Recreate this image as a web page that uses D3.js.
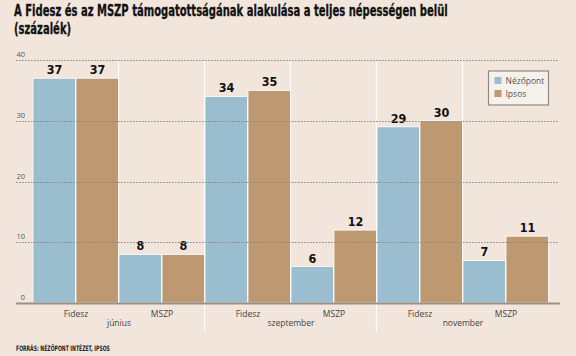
<!DOCTYPE html>
<html><head><meta charset="utf-8">
<script src="https://cdn.jsdelivr.net/npm/d3@7/dist/d3.min.js"></script>
<style>
html,body{margin:0;padding:0;background:#f2e6dc;}
svg{display:block;}
</style></head>
<body>
<svg id="c" width="576" height="356"></svg>
<script>
const months = ["június", "szeptember", "november"];
const parties = ["Fidesz", "MSZP"];
const series = ["Nézőpont", "Ipsos"];
const nezopont = [37, 8, 34, 6, 29, 7];
const ipsos = [37, 8, 35, 12, 30, 11];
const yTicks = [0, 10, 20, 30, 40];
const titleLines = ["A Fidesz és az MSZP támogatottságának alakulása a teljes népességen belül", "(százalék)"];
const source = "FORRÁS: NÉZŐPONT INTÉZET, IPSOS";

const colors = {"Nézőpont": "#9bbdd0", "Ipsos": "#bd9870"};
const condensed = "'Liberation Sans Narrow','DejaVu Sans Condensed','Roboto Condensed',sans-serif";
const sans = "'Open Sans','Noto Sans','DejaVu Sans',sans-serif";

const cats = [];
months.forEach(m => parties.forEach(p => cats.push(m + "|" + p)));
const rows = cats.map((c, i) => ({key: c, month: c.split("|")[0], party: c.split("|")[1], "Nézőpont": nezopont[i], "Ipsos": ipsos[i]}));

const svg = d3.select("#c");
const x0 = d3.scaleBand().domain(cats).range([33, 549]).padding(0);
const x1 = d3.scaleBand().domain(series).range([0, x0.bandwidth()]).padding(0);
const xm = d3.scaleBand().domain(months).range([33, 549]).padding(0);
const y = d3.scaleLinear().domain([0, 40]).range([303, 60]);
const left = 16, right = 560;

// title: condensed horizontally via a transform so the first line spans ~434px
const tg = svg.append("g");
const tt = tg.selectAll("text").data(titleLines).join("text")
  .attr("x", 0).attr("y", (d, i) => 16.5 + i * 18)
  .attr("font-family", condensed).attr("font-weight", "bold").attr("font-size", 16.5)
  .attr("fill", "#111").attr("stroke", "#111").attr("stroke-width", 0.3)
  .text(d => d);
const w0 = tt.nodes()[0].getComputedTextLength();
const sx = Math.min(1, 434 / w0);
tg.attr("transform", `translate(14,0) scale(${sx},1)`);

// white vertical separators between subcategories
svg.append("g").selectAll("line").data(cats.slice(1)).join("line")
  .attr("x1", d => Math.round(x0(d)) - 0.5).attr("x2", d => Math.round(x0(d)) - 0.5)
  .attr("y1", y(40)).attr("y2", d => parties.indexOf(d.split("|")[1]) === 0 ? 332 : y(0))
  .attr("stroke", "#fff").attr("stroke-width", 1.2);

// bars
const g = svg.append("g");
g.selectAll("g").data(rows).join("g")
  .attr("transform", d => `translate(${x0(d.key)},0)`)
  .selectAll("rect").data(d => series.map(s => ({s, v: d[s]}))).join("rect")
  .attr("x", d => x1(d.s)).attr("width", x1.bandwidth() - 0.5)
  .attr("y", d => y(d.v)).attr("height", d => y(0) - y(d.v))
  .attr("fill", d => colors[d.s]).attr("stroke", "#fff").attr("stroke-width", 0.8);

// value labels
g.selectAll("g").selectAll("text").data(d => series.map(s => ({s, v: d[s]}))).join("text")
  .attr("x", d => x1(d.s) + x1.bandwidth() / 2).attr("y", d => y(d.v) - 4)
  .attr("text-anchor", "middle")
  .attr("font-family", condensed).attr("font-weight", "bold").attr("font-size", 12.5)
  .attr("fill", "#111").text(d => d.v);

// gridlines (dotted, on top of bars)
svg.append("g").selectAll("line").data(yTicks.filter(t => t > 0)).join("line")
  .attr("x1", left).attr("x2", right - 1)
  .attr("y1", d => Math.round(y(d)) + 0.5).attr("y2", d => Math.round(y(d)) + 0.5)
  .attr("stroke", "#8f8780").attr("stroke-width", 1).attr("stroke-dasharray", "1.6,1.4");

// baseline
svg.append("line").attr("x1", left).attr("x2", right)
  .attr("y1", y(0) + 0.5).attr("y2", y(0) + 0.5)
  .attr("stroke", "#9a8f86").attr("stroke-width", 1.8);

// y tick labels
svg.append("g").selectAll("text").data(yTicks).join("text")
  .attr("x", 25).attr("y", d => y(d) - 3)
  .attr("text-anchor", "end")
  .attr("font-family", sans).attr("font-size", 7.5).attr("fill", "#555")
  .text(d => d);

// party labels
svg.append("g").selectAll("text").data(rows).join("text")
  .attr("x", d => x0(d.key) + x0.bandwidth() / 2).attr("y", 317)
  .attr("text-anchor", "middle")
  .attr("font-family", sans).attr("font-size", 8.5).attr("fill", "#444")
  .text(d => d.party);

// month labels
svg.append("g").selectAll("text").data(months).join("text")
  .attr("x", d => xm(d) + xm.bandwidth() / 2).attr("y", 326)
  .attr("text-anchor", "middle")
  .attr("font-family", sans).attr("font-size", 8.5).attr("fill", "#444")
  .text(d => d);

// legend
const lg = svg.append("g").attr("transform", "translate(488.5,71)");
lg.append("rect").attr("width", 60).attr("height", 34)
  .attr("fill", "#f7f1ec").attr("stroke", "#8f8a86").attr("stroke-width", 1.2);
const li = lg.selectAll("g").data(series).join("g")
  .attr("transform", (d, i) => `translate(6,${6 + i * 13})`);
li.append("rect").attr("width", 7).attr("height", 7).attr("fill", d => colors[d]);
li.append("text").attr("x", 11).attr("y", 7)
  .attr("font-family", sans).attr("font-size", 8.5).attr("fill", "#555")
  .text(d => d);

// source
const sg = svg.append("g");
const st = sg.append("text").attr("x", 0).attr("y", 351)
  .attr("font-family", condensed).attr("font-weight", "bold").attr("font-size", 7.5)
  .attr("fill", "#222")
  .text(source);
const sw = st.node().getComputedTextLength();
sg.attr("transform", `translate(16,0) scale(${Math.min(1, 94 / sw)},1)`);
</script>
</body></html>
